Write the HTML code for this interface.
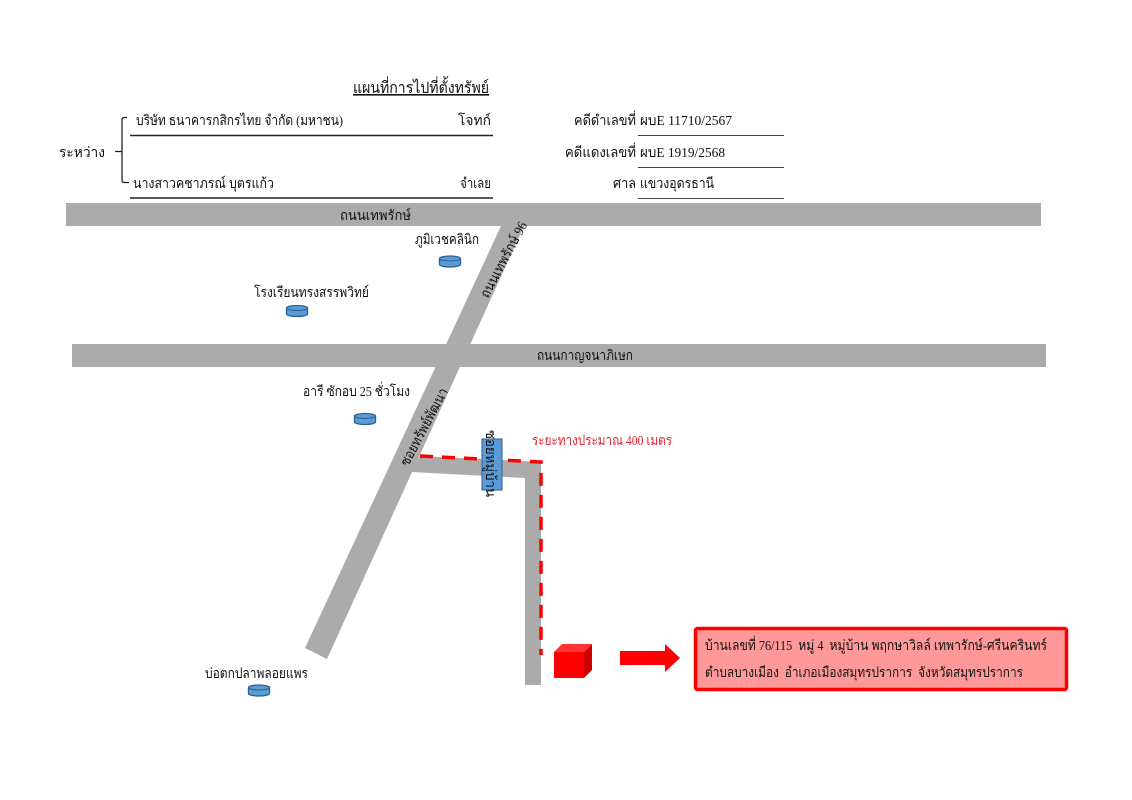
<!DOCTYPE html>
<html><head><meta charset="utf-8"><style>
html,body{margin:0;padding:0;background:#fff;width:1132px;height:800px;overflow:hidden}
svg{display:block}
text{font-family:"Liberation Serif","Noto Serif CJK SC",serif;font-size:14px;fill:#111;white-space:pre}
</style></head><body>
<svg width="1132" height="800" viewBox="0 0 1132 800" xmlns="http://www.w3.org/2000/svg">
<defs><g id="c"><path d="M-10.500,-3 a10.500,2.500 0 0 1 21,0 v6 a10.500,2.500 0 0 1 -21,0z" fill="#5b9bd5" stroke="#2a5f8f" stroke-width="1.300"/><path d="M-10.500,-3 a10.500,2.500 0 0 0 21,0" fill="none" stroke="#2a5f8f" stroke-width="1"/></g></defs>
<text x="353" y="93" style="text-decoration:underline;font-size:16px" textLength="136" lengthAdjust="spacingAndGlyphs">แผนที่การไปที่ตั้งทรัพย์</text>
<text x="136" y="125" textLength="207" lengthAdjust="spacingAndGlyphs">บริษัท ธนาคารกสิกรไทย จำกัด (มหาชน)</text>
<text x="458" y="125" textLength="33" lengthAdjust="spacingAndGlyphs">โจทก์</text>
<text x="59" y="157" textLength="46" lengthAdjust="spacingAndGlyphs">ระหว่าง</text>
<text x="133" y="188" textLength="141" lengthAdjust="spacingAndGlyphs">นางสาวคชาภรณ์ บุตรแก้ว</text>
<text x="460" y="188" textLength="31" lengthAdjust="spacingAndGlyphs">จำเลย</text>
<path d="M130,135.500H493M130,198H493" stroke="#222" stroke-width="1.600" fill="none"/>
<path d="M127,117.500H124.500Q122,117.500 122,120V180Q122,182.500 124.500,182.500H129M115,151.500H122" stroke="#222" stroke-width="1.300" fill="none"/>
<text x="574" y="125" textLength="62" lengthAdjust="spacingAndGlyphs">คดีดำเลขที่</text>
<text x="640" y="125" textLength="92" lengthAdjust="spacingAndGlyphs">ผบE 11710/2567</text>
<text x="565" y="157" textLength="71" lengthAdjust="spacingAndGlyphs">คดีแดงเลขที่</text>
<text x="640" y="157" textLength="85" lengthAdjust="spacingAndGlyphs">ผบE 1919/2568</text>
<text x="613" y="188" textLength="23" lengthAdjust="spacingAndGlyphs">ศาล</text>
<text x="640" y="188" textLength="74" lengthAdjust="spacingAndGlyphs">แขวงอุดรธานี</text>
<path d="M638,135.500H784M638,167.500H784M638,198.500H784" stroke="#444" stroke-width="1" fill="none"/>
<g fill="#ababab">
<polygon points="501,226 524,226 327,659 305,648"/>
<polygon points="420,456 541,462 541,685 525,685 525,478 411,472"/>
<rect x="66" y="203" width="975" height="23"/>
<rect x="72" y="344" width="974" height="23"/>
</g>
<text x="340" y="220" textLength="71" lengthAdjust="spacingAndGlyphs">ถนนเทพรักษ์</text>
<text x="537" y="360" textLength="96" lengthAdjust="spacingAndGlyphs">ถนนกาญจนาภิเษก</text>
<text transform="translate(488,299) rotate(-62)" textLength="84" lengthAdjust="spacingAndGlyphs">ถนนเทพรักษ์ 96</text>
<text transform="translate(408,467) rotate(-62)" textLength="86" lengthAdjust="spacingAndGlyphs">ซอยทรัพย์พัฒนา</text>
<text x="415" y="244" textLength="64" lengthAdjust="spacingAndGlyphs">ภูมิเวชคลินิก</text>
<text x="254" y="297" textLength="115" lengthAdjust="spacingAndGlyphs">โรงเรียนทรงสรรพวิทย์</text>
<text x="303" y="396" textLength="107" lengthAdjust="spacingAndGlyphs">อารี ซักอบ 25 ชั่วโมง</text>
<text x="205" y="678" textLength="103" lengthAdjust="spacingAndGlyphs">บ่อตกปลาพลอยแพร</text>
<use href="#c" x="450" y="261.500"/>
<use href="#c" x="297" y="311"/>
<use href="#c" x="365" y="419"/>
<use href="#c" x="259" y="690.500"/>
<path d="M420,456 L541,462 V655" fill="none" stroke="#f00" stroke-width="3.500" stroke-dasharray="13,9"/>
<rect x="482" y="439" width="20" height="51" fill="#5b9bd5" stroke="#2a5f8f" stroke-width="1"/>
<text transform="translate(486,430) rotate(90)" textLength="67" lengthAdjust="spacingAndGlyphs">ซอยหมู่บ้าน</text>
<text x="532" y="445" style="fill:#e0262c" textLength="140" lengthAdjust="spacingAndGlyphs">ระยะทางประมาณ 400 เมตร</text>
<polygon points="554,652 584,652 584,678 554,678" fill="#f00"/>
<polygon points="554,652 562,644 592,644 584,652" fill="#f33"/>
<polygon points="584,652 592,644 592,670 584,678" fill="#c00"/>
<polygon points="620,651 665,651 665,644 680,658 665,672 665,665 620,665" fill="#f00"/>
<rect x="695.500" y="628.500" width="371" height="61" rx="2" fill="#ff9999" stroke="#f00" stroke-width="3.500"/>
<text x="705" y="650" textLength="342" lengthAdjust="spacingAndGlyphs">บ้านเลขที่ 76/115  หมู่ 4  หมู่บ้าน พฤกษาวิลล์ เทพารักษ์-ศรีนครินทร์</text>
<text x="705" y="677" textLength="318" lengthAdjust="spacingAndGlyphs">ตำบลบางเมือง  อำเภอเมืองสมุทรปราการ  จังหวัดสมุทรปราการ</text>
</svg>
</body></html>
